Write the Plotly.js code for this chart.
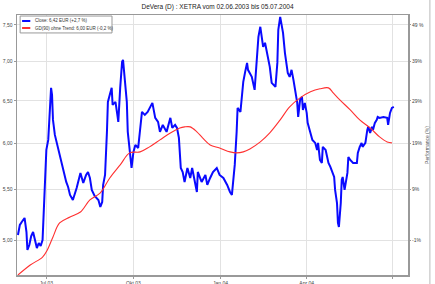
<!DOCTYPE html>
<html>
<head>
<meta charset="utf-8">
<script src="https://cdn.plot.ly/plotly-3.0.1.min.js"></script>
<style>html,body{margin:0;padding:0;background:#fff;}#chart{width:435px;height:284px;}</style>
</head>
<body>
<div id="chart"></div>
<script>
// Close price series (EUR)
const closeDates = [
"2003-06-01","2003-06-03","2003-06-05","2003-06-08","2003-06-10","2003-06-11","2003-06-13","2003-06-15","2003-06-17","2003-06-19",
"2003-06-21","2003-06-23","2003-06-25","2003-06-27","2003-06-30","2003-07-01","2003-07-03","2003-07-05","2003-07-06","2003-07-07",
"2003-07-08","2003-07-10","2003-07-12","2003-07-15","2003-07-19","2003-07-22","2003-07-24","2003-07-26","2003-07-29","2003-08-02",
"2003-08-06","2003-08-09","2003-08-12","2003-08-14","2003-08-16","2003-08-18","2003-08-21","2003-08-25","2003-08-27","2003-08-29",
"2003-08-30","2003-09-01","2003-09-03","2003-09-04","2003-09-06","2003-09-08","2003-09-09","2003-09-12","2003-09-14","2003-09-15",
"2003-09-17","2003-09-19","2003-09-20","2003-09-22","2003-09-24","2003-09-25","2003-09-27","2003-09-29","2003-10-01","2003-10-03",
"2003-10-06","2003-10-08","2003-10-10","2003-10-13","2003-10-16","2003-10-21","2003-10-22","2003-10-24","2003-10-27","2003-10-29",
"2003-11-01","2003-11-05","2003-11-09","2003-11-11","2003-11-14","2003-11-16","2003-11-18","2003-11-20","2003-11-22","2003-11-24",
"2003-11-27","2003-11-30","2003-12-02","2003-12-05","2003-12-07","2003-12-08","2003-12-12","2003-12-16","2003-12-18","2003-12-21",
"2003-12-24","2003-12-28","2003-12-31","2004-01-04","2004-01-08","2004-01-11","2004-01-13","2004-01-14","2004-01-16","2004-01-18",
"2004-01-19","2004-01-22","2004-01-24","2004-01-25","2004-01-27","2004-01-29","2004-01-30","2004-02-03","2004-02-06","2004-02-10",
"2004-02-12","2004-02-14","2004-02-15","2004-02-17","2004-02-19","2004-02-22","2004-02-24","2004-02-28","2004-03-01","2004-03-02",
"2004-03-04","2004-03-07","2004-03-09","2004-03-11","2004-03-12","2004-03-14","2004-03-16","2004-03-18","2004-03-20","2004-03-22",
"2004-03-23","2004-03-25","2004-03-27","2004-03-28","2004-03-30","2004-04-01","2004-04-02","2004-04-05","2004-04-07","2004-04-10",
"2004-04-12","2004-04-13","2004-04-15","2004-04-17","2004-04-18","2004-04-21","2004-04-24","2004-04-26","2004-04-28","2004-04-30",
"2004-05-01","2004-05-03","2004-05-04","2004-05-05","2004-05-07","2004-05-08","2004-05-09","2004-05-11","2004-05-14","2004-05-15",
"2004-05-17","2004-05-20","2004-05-24","2004-05-25","2004-05-27","2004-05-29","2004-05-30","2004-06-02","2004-06-04","2004-06-05",
"2004-06-07","2004-06-09","2004-06-10","2004-06-12","2004-06-14","2004-06-15","2004-06-17","2004-06-21","2004-06-25","2004-06-26",
"2004-06-28","2004-06-30","2004-07-02"
];
const closeValues = [
5.048,5.144,5.173,5.212,5.076,4.907,4.953,5.038,5.076,5.000,
4.925,4.972,4.944,5.000,5.706,5.925,6.038,6.389,6.660,6.573,
6.270,6.095,6.004,5.869,5.706,5.578,5.526,5.443,5.392,5.515,
5.674,5.568,5.652,5.684,5.620,5.495,5.433,5.392,5.321,5.372,
5.547,5.652,6.130,6.486,6.573,6.660,6.450,6.486,6.329,6.246,
6.660,6.995,7.021,6.736,6.486,6.130,5.947,5.727,5.903,5.981,
5.947,6.130,6.365,6.329,6.365,6.474,6.413,6.294,6.246,6.130,
6.211,6.130,6.294,6.176,6.211,6.176,6.061,5.727,5.684,5.578,
5.727,5.620,5.727,5.578,5.474,5.684,5.578,5.652,5.547,5.620,
5.684,5.727,5.652,5.620,5.547,5.474,5.443,5.547,5.760,6.130,
6.413,6.365,6.610,6.736,6.864,6.981,6.890,6.799,6.635,7.332,
7.472,7.291,7.195,7.250,7.114,6.929,6.723,6.672,6.981,7.430,
7.614,7.388,7.114,6.929,6.851,6.799,6.890,6.761,6.635,6.474,
6.305,6.511,6.548,6.389,6.474,6.353,6.235,6.118,6.038,6.004,
5.925,6.004,5.814,5.782,5.959,5.925,5.782,5.738,5.674,5.631,
5.495,5.361,5.163,5.124,5.361,5.599,5.631,5.495,5.674,5.847,
5.814,5.782,5.782,5.892,5.959,6.004,5.959,6.004,6.153,6.188,
6.118,6.188,6.153,6.235,6.270,6.305,6.294,6.305,6.294,6.211,
6.353,6.413,6.425
];
// Moving average series (EUR)
const avgDates = [
"2003-06-01","2003-06-14","2003-06-27","2003-07-02","2003-07-08","2003-07-15","2003-07-26","2003-08-06","2003-08-16","2003-08-27",
"2003-09-06","2003-09-17","2003-09-27","2003-10-08","2003-10-18","2003-10-29","2003-11-09","2003-11-19","2003-11-24","2003-11-30",
"2003-12-07","2003-12-13","2003-12-21","2003-12-31","2004-01-11","2004-01-18","2004-01-25","2004-02-01","2004-02-12","2004-02-22",
"2004-03-04","2004-03-14","2004-03-25","2004-04-05","2004-04-15","2004-04-24","2004-04-29","2004-05-06","2004-05-17","2004-05-27",
"2004-06-07","2004-06-17","2004-06-25","2004-06-30"
];
const avgValues = [
4.681,4.770,4.842,4.907,5.029,5.163,5.222,5.271,5.392,5.464,
5.620,5.760,5.892,5.903,5.959,6.038,6.118,6.176,6.188,6.188,
6.130,6.061,5.981,5.947,5.903,5.892,5.903,5.936,6.015,6.118,
6.270,6.425,6.535,6.610,6.648,6.660,6.598,6.511,6.389,6.270,
6.176,6.072,6.015,6.004
];
const seriesNames = ["Close: 6,42 EUR (+2,7 %)", "GD(90) ohne Trend: 6,00 EUR (-0,2 %)"];
const seriesColors = ["#0a0aff", "#ff3030"];
const chartTitle = "DeVera (D) : XETRA vom 02.06.2003 bis 05.07.2004";
const priceTicks = [5.0, 5.5, 6.0, 6.5, 7.0, 7.5];
const priceTickText = ["5,00", "5,50", "6,00", "6,50", "7,00", "7,50"];
const pctTickText = ["-1%", "9%", "19%", "29%", "39%", "49 %"];
const dateTicks = ["2003-07-01", "2003-10-01", "2004-01-01", "2004-04-01", "2004-07-01"];
const dateTickText = ["Jul 03", "Okt 03", "Jan 04", "Apr 04", ""];
const rightTitle = "Performance (%)";

const yRange = [Math.log10(4.681), Math.log10(7.64)];
const fontFam = "Liberation Sans, Arial, sans-serif";

const traces = [
  {x: closeDates, y: closeValues, type: "scatter", mode: "lines", name: seriesNames[0],
   line: {color: seriesColors[0], width: 2}},
  {x: avgDates, y: avgValues, type: "scatter", mode: "lines", name: seriesNames[1],
   line: {color: seriesColors[1], width: 1.1, shape: "spline"}},
  // binding so that the right axis is drawn
  {x: [closeDates[0]], y: [closeValues[0]], yaxis: "y2", type: "scatter", mode: "lines",
   showlegend: false, hoverinfo: "skip", line: {width: 0}}
];

// compact legend box (paper coordinates)
const legBox = {x0: 0.008, x1: 0.243, y0: 0.931, y1: 0.996};
const legRows = [0.977, 0.950];
const shapes = [
  {type: "rect", xref: "paper", yref: "paper", x0: legBox.x0, x1: legBox.x1, y0: legBox.y0, y1: legBox.y1,
   fillcolor: "#fff", line: {color: "#999", width: 1}, layer: "above"},
  {type: "line", xref: "paper", yref: "paper", x0: 1.056, x1: 1.056, y0: -0.04, y1: 1.06,
   line: {color: "#bbb", width: 1}}
];
const annotations = [];
seriesNames.forEach((nm, i) => {
  shapes.push({type: "line", xref: "paper", yref: "paper", x0: 0.013, x1: 0.034,
               y0: legRows[i], y1: legRows[i], line: {color: seriesColors[i], width: 2}, layer: "above"});
  annotations.push({xref: "paper", yref: "paper", x: 0.040, y: legRows[i], xanchor: "left", yanchor: "middle",
                    text: nm, showarrow: false, font: {size: 4.5, color: "#333"}});
});

const layout = {
  width: 435, height: 284,
  margin: {l: 17, r: 27, t: 15, b: 9, pad: 0},
  paper_bgcolor: "#fff", plot_bgcolor: "#fff",
  font: {family: fontFam, size: 5, color: "#333"},
  title: {text: chartTitle, font: {family: fontFam, size: 6.5, color: "#222"},
          x: 0.5, xanchor: "center", y: 0.978, yanchor: "middle"},
  showlegend: false,
  xaxis: {type: "date", range: ["2003-05-31", "2004-07-17"],
          tickmode: "array", tickvals: dateTicks, ticktext: dateTickText,
          showgrid: true, gridcolor: "#e2e2e2", gridwidth: 1,
          showline: true, linecolor: "#999", linewidth: 1.5, mirror: true,
          ticks: "outside", ticklen: 2, tickcolor: "#999",
          tickfont: {size: 5, color: "#444"}, zeroline: false},
  yaxis: {type: "log", range: yRange, tickmode: "array",
          tickvals: priceTicks, ticktext: priceTickText,
          showgrid: true, gridcolor: "#e2e2e2", gridwidth: 1,
          showline: true, linecolor: "#999", linewidth: 1.5, mirror: true,
          ticks: "outside", ticklen: 2, tickcolor: "#999",
          tickfont: {size: 5, color: "#444"}, zeroline: false},
  yaxis2: {type: "log", range: yRange, overlaying: "y", side: "right",
          tickmode: "array", tickvals: priceTicks, ticktext: pctTickText,
          showgrid: false, showline: false, ticks: "outside", ticklen: 2, tickcolor: "#999",
          tickfont: {size: 5, color: "#444"}, zeroline: false,
          title: {text: rightTitle, font: {size: 5, color: "#555"}, standoff: 2}},
  shapes: shapes,
  annotations: annotations
};

Plotly.newPlot("chart", traces, layout, {displayModeBar: false, staticPlot: true});
</script>
</body>
</html>
